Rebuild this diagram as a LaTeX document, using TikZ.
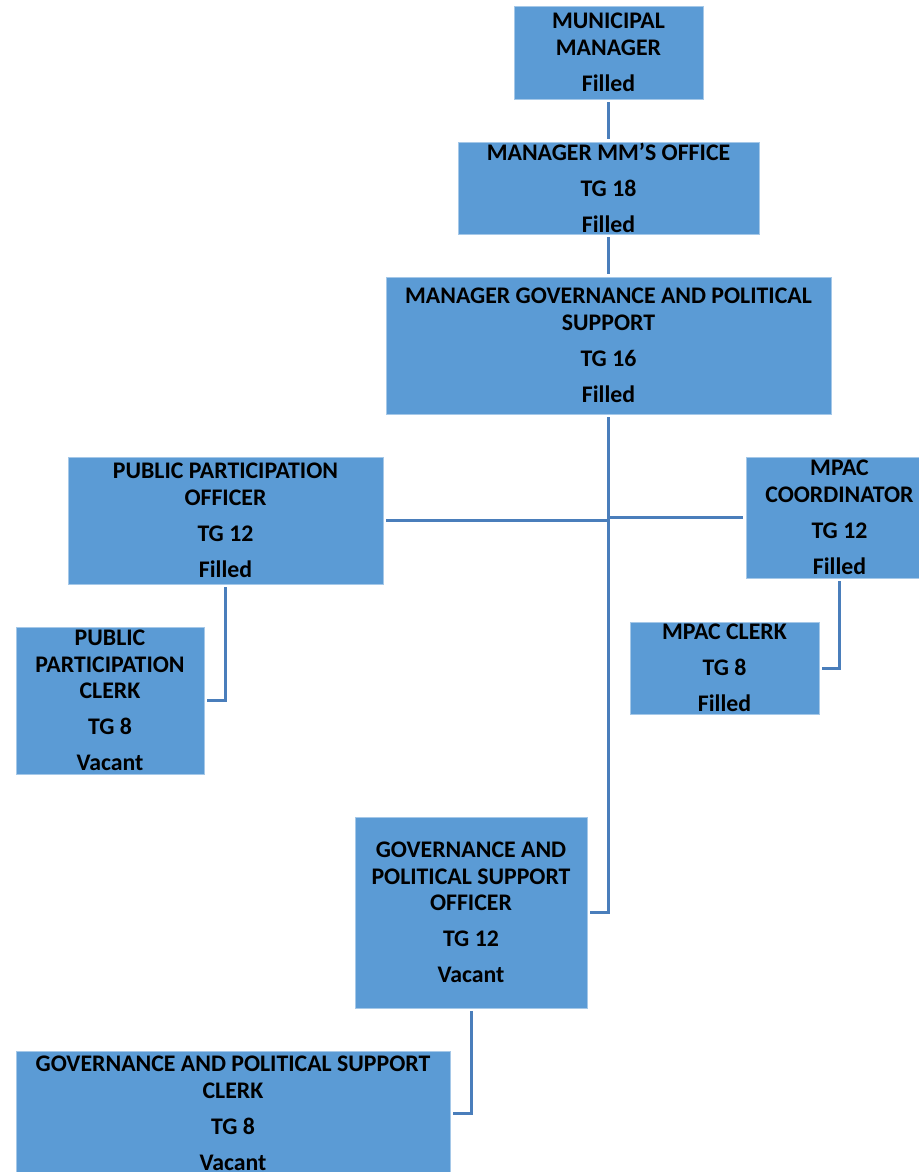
\documentclass[tikz,border=0pt]{standalone}
\usepackage{fontspec}
\setmainfont{Carlito}
\usetikzlibrary{calc}
\definecolor{boxblue}{HTML}{5B9BD5}
\definecolor{linkblue}{HTML}{4A7EBB}
\tikzset{
  post/.style={draw=boxblue!55!white, line width=0.8pt, fill=boxblue,
    inner sep=0pt, align=center, text=black,
    font=\fontsize{23.8}{26.6}\selectfont\bfseries},
  link/.style={draw=linkblue, line width=3pt, shorten >=3pt, shorten <=3pt}
}
\newcommand{\gap}{\\[9.4pt]}
\begin{document}
\begin{tikzpicture}[x=1pt,y=-1pt]
\useasboundingbox (0,0) rectangle (918,1172);

% posts
\node[post, minimum width=189, minimum height=93] (mm) at (608.5,52.5)
  {MUNICIPAL\\MANAGER\gap Filled};
\node[post, minimum width=301, minimum height=92] (office) at (608.5,188)
  {MANAGER MM’S OFFICE\gap TG 18\gap Filled};
\node[post, minimum width=445, minimum height=137] (gps) at (608.5,345.5)
  {MANAGER GOVERNANCE AND POLITICAL\\SUPPORT\gap TG 16\gap Filled};
\node[post, minimum width=315, minimum height=127] (ppo) at (225.5,520.5)
  {PUBLIC PARTICIPATION\\OFFICER\gap TG 12\gap Filled};
\node[post, minimum width=187, minimum height=121] (mpac) at (839.5,517.5)
  {MPAC\\COORDINATOR\gap TG 12\gap Filled};
\node[post, minimum width=188, minimum height=147] (ppclerk) at (110,700.5)
  {PUBLIC\\PARTICIPATION\\CLERK\gap TG 8\gap Vacant};
\node[post, minimum width=189, minimum height=92] (mpacclerk) at (724.5,668)
  {MPAC CLERK\gap TG 8\gap Filled};
\node[post, minimum width=232, minimum height=191] (officer) at (471,912.5)
  {GOVERNANCE AND\\POLITICAL SUPPORT\\OFFICER\gap TG 12\gap Vacant};
\node[post, minimum width=434, minimum height=124] (clerk) at (233,1113)
  {GOVERNANCE AND POLITICAL SUPPORT\\CLERK\gap TG 8\gap Vacant};

% reporting lines
\draw[link] (mm.south) -- (office.north);
\draw[link] (office.south) -- (gps.north);
\draw[link] (gps.south) |- (officer.east);
\draw[link, shorten >=0pt] (ppo.east) -- (ppo.east -| gps.south);
\draw[link, shorten >=0pt] (mpac.west) -- (mpac.west -| gps.south);
\draw[link] (ppo.south) |- (ppclerk.east);
\draw[link] (mpac.south) |- (mpacclerk.east);
\draw[link] (officer.south) |- (clerk.east);
\end{tikzpicture}
\end{document}
